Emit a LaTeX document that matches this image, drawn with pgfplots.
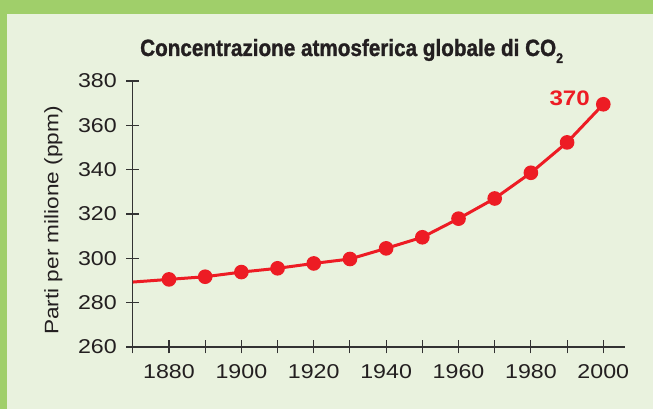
\documentclass[border=0pt]{standalone}
\usepackage{fontspec}
\setmainfont[FakeStretch=1.16]{Liberation Sans}
\newfontfamily\titlefont[FakeStretch=0.88, FakeBold=1.2]{Liberation Sans}
\newfontfamily\numfont[FakeStretch=1.15]{Liberation Sans}
\usepackage{pgfplots}
\pgfplotsset{compat=1.18}
\definecolor{bg}{RGB}{233,242,222}
\definecolor{frame}{RGB}{160,207,106}
\definecolor{co2red}{RGB}{237,28,36}
\definecolor{axisgray}{RGB}{51,51,51}
\definecolor{txt}{RGB}{35,31,32}
\begin{document}
\begin{tikzpicture}[x=1pt,y=1pt]
\fill[frame] (-132.8,-62) rectangle (520.2,347);
\fill[bg] (-125.8,-62) rectangle (520.2,333);
\begin{axis}[
  at={(0,0)}, anchor=south west, scale only axis,
  width=492.2pt, height=266pt,
  xmin=1870, xmax=2006, ymin=260, ymax=380,
  axis lines*=left,
  axis line style={axisgray, line width=1.3pt},
  xtick={1880,1900,...,2000},
  minor xtick={1870,1890,...,1990},
  ytick={260,280,...,380},
  tick align=center,
  major tick length=13pt, minor tick length=13pt,
  major tick style={axisgray, line width=1.1pt},
  minor tick style={axisgray, line width=1.1pt},
  tick label style={font=\fontsize{20}{20}\selectfont, text=txt},
  xticklabel style={yshift=-8pt},
  yticklabel style={xshift=-6pt},
  /pgf/number format/assume math mode=true,
  /pgf/number format/1000 sep={},
  clip=false,
]
\addplot[co2red, line width=3pt, mark=*, mark size=5.8pt,
  mark options={fill=co2red, draw=none}, mark indices={2,...,14}]
coordinates {
(1870,289.3) (1880,290.5) (1890,291.7) (1900,293.8) (1910,295.5)
(1920,297.7) (1930,299.7) (1940,304.5) (1950,309.5) (1960,317.9)
(1970,327.0) (1980,338.6) (1990,352.3) (2000,369.5)
};
\end{axis}
\node[anchor=base west, text=txt, inner sep=0] at (7.2,291)
  {\titlefont\bfseries\fontsize{23.5}{24}\selectfont Concentrazione atmosferica globale di CO\raisebox{-7pt}{\fontsize{14}{14}\selectfont 2}};
\node[rotate=90, anchor=base, inner sep=0, text=txt] at (-74.5,126.5)
  {\fontsize{19.5}{20}\selectfont Parti per milione (ppm)};
\node[anchor=base east, inner sep=0, text=co2red] at (457.2,241.3)
  {\numfont\bfseries\fontsize{21}{21}\selectfont 370};
\pgfresetboundingbox
\useasboundingbox (-132.8,-62) rectangle (520.2,347);
\end{tikzpicture}
\end{document}
